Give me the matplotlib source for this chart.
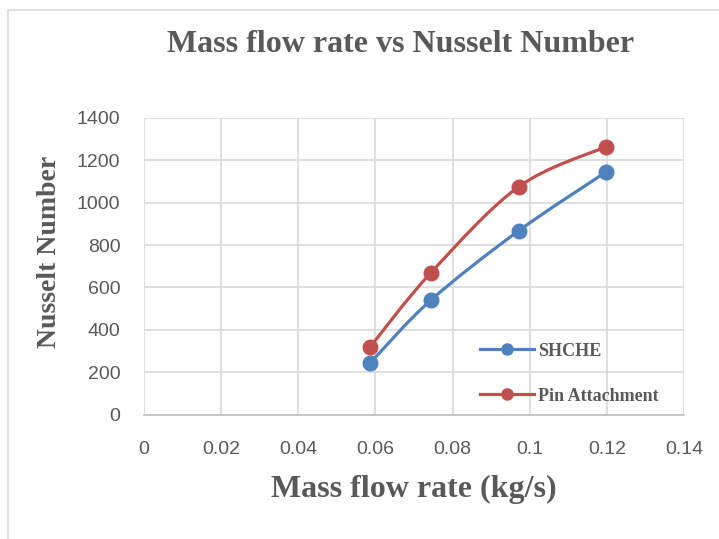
import numpy as np
import matplotlib.pyplot as plt
from matplotlib.path import Path
from matplotlib.patches import PathPatch, Rectangle
from matplotlib.lines import Line2D

mass_flow = [0.0587, 0.0743, 0.0971, 0.1197]
shche = [245, 539, 867, 1144]
pin_attach = [321, 668, 1075, 1264]

x_ticks = [0, 0.02, 0.04, 0.06, 0.08, 0.1, 0.12, 0.14]
x_tick_labels = ["0", "0.02", "0.04", "0.06", "0.08", "0.1", "0.12", "0.14"]
y_ticks = [0, 200, 400, 600, 800, 1000, 1200, 1400]

BLUE = "#4f81bd"
RED = "#c0504d"
GRAY = "#595959"
serif = ["Liberation Serif", "DejaVu Serif"]
sans = ["Liberation Sans", "DejaVu Sans"]


def smooth_path(xs, ys, tension=1/6):
    # bezier segments through the points, like Excel's smoothed line
    xs = np.asarray(xs, float)
    ys = np.asarray(ys, float)
    verts = [(xs[0], ys[0])]
    codes = [Path.MOVETO]
    n = len(xs)
    for i in range(n - 1):
        p0 = np.array([xs[max(i - 1, 0)], ys[max(i - 1, 0)]])
        p1 = np.array([xs[i], ys[i]])
        p2 = np.array([xs[i + 1], ys[i + 1]])
        p3 = np.array([xs[min(i + 2, n - 1)], ys[min(i + 2, n - 1)]])
        c1 = p1 + (p2 - p0) * tension
        c2 = p2 - (p3 - p1) * tension
        verts += [tuple(c1), tuple(c2), tuple(p2)]
        codes += [Path.CURVE4] * 3
    return Path(verts, codes)


fig = plt.figure(figsize=(7.19, 5.39), dpi=100, facecolor="white")
fig.patches.append(Rectangle((8 / 719, -0.1), 1.2, (539 - 10) / 539 + 0.1,
                             transform=fig.transFigure, fill=False,
                             edgecolor="#d9d9d9", linewidth=1.2))

ax = fig.add_axes([144 / 719, 1 - 414.6 / 539, 540 / 719, 296.6 / 539])
ax.set_xlim(0, 0.14)
ax.set_ylim(0, 1400)
ax.set_xticks(x_ticks)
ax.set_xticklabels(x_tick_labels)
ax.set_yticks(y_ticks)
ax.grid(True, color="#d9d9d9", linewidth=1.2)
ax.set_axisbelow(True)
for side in ["top", "right", "left"]:
    ax.spines[side].set_visible(False)
ax.spines["bottom"].set_color("#bfbfbf")
ax.spines["bottom"].set_linewidth(1.2)
ax.tick_params(length=0, colors=GRAY, labelsize=14)
ax.tick_params(axis="y", pad=17)
ax.tick_params(axis="x", pad=19)
for lab in ax.get_xticklabels() + ax.get_yticklabels():
    lab.set_family(sans)

for ys, col in [(shche, BLUE), (pin_attach, RED)]:
    ax.add_patch(PathPatch(smooth_path(mass_flow, ys), facecolor="none",
                           edgecolor=col, linewidth=2.3, capstyle="round", zorder=3))
    ax.plot(mass_flow, ys, "o", color=col, markersize=10.5, zorder=4)

handles = [Line2D([], [], color=BLUE, lw=2.3, marker="o", markersize=8),
           Line2D([], [], color=RED, lw=2.3, marker="o", markersize=8)]
leg = ax.legend(handles, ["SHCHE", "Pin Attachment"], loc="lower left",
                bbox_to_anchor=((470 - 144) / 540, 0.0), frameon=False,
                handlelength=3.0, handletextpad=0.2, labelspacing=1.55,
                borderaxespad=0, borderpad=0.55,
                prop={"family": serif, "weight": "bold", "size": 13})
for t in leg.get_texts():
    t.set_color(GRAY)

fig.text(401 / 719, 1 - 45 / 539, "Mass flow rate vs Nusselt Number",
         ha="center", va="center", family=serif, weight="bold",
         fontsize=23, color=GRAY)
fig.text(414 / 719, 1 - 489 / 539, "Mass flow rate (kg/s)",
         ha="center", va="center", family=serif, weight="bold",
         fontsize=23, color=GRAY)
fig.text(50 / 719, 1 - 252 / 539, "Nusselt Number", rotation=90,
         ha="center", va="center", family=serif, weight="bold",
         fontsize=20, color=GRAY)

fig.savefig("out.png", dpi=100, facecolor="white")
